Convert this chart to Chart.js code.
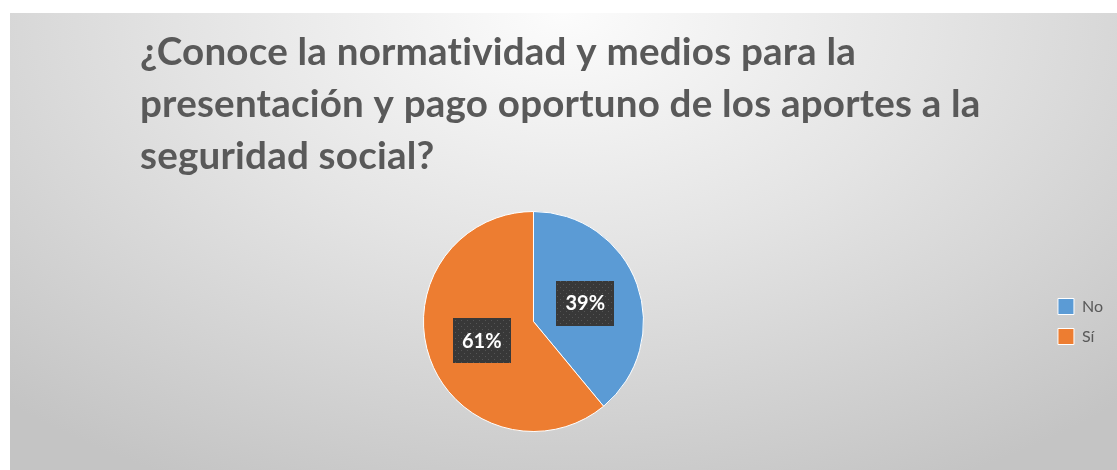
<!DOCTYPE html>
<html>
<head>
<meta charset="utf-8">
<script src="https://cdn.jsdelivr.net/npm/chart.js@4"></script>
<style>
    body { margin: 0; background: #fff; }
    #box {
        position: absolute; left: 10px; top: 13px; width: 1107px; height: 457px;
        background: radial-gradient(ellipse 75% 115% at 50% 0%, #fcfcfc 0%, #e4e4e4 45%, #c4c4c4 100%);
    }
</style>
</head>
<body>
<div id="box"><canvas id="chart-0" width="1107" height="457"></canvas></div>
<script>
var categories = ['No', 'Sí'];
var values = [39, 61];
var colors = ['#5b9bd5', '#ed7d31'];
var titleLines = [
    '¿Conoce la normatividad y medios para la',
    'presentación y pago oportuno de los aportes a la',
    'seguridad social?'
];

// dark dotted tile behind the percent labels
var tile = document.createElement('canvas');
tile.width = 6; tile.height = 6;
var tctx = tile.getContext('2d');
tctx.fillStyle = '#383838';
tctx.fillRect(0, 0, 6, 6);
tctx.fillStyle = '#555555';
tctx.fillRect(1, 1, 1, 1);
tctx.fillRect(4, 4, 1, 1);

function eachOf(arr, fn) { for (var i = 0; i < arr.length; i++) fn(i, arr[i]); }

var titlePlugin = {
    id: 'bigTitle',
    afterDraw: function (chart) {
        var ctx = chart.ctx;
        ctx.save();
        ctx.fillStyle = '#595959';
        ctx.textBaseline = 'alphabetic';
        ctx.letterSpacing = '0.2px'; // keeps "ti" from turning into a ligature
        // fit the widest line to the width it has in the picture
        var size = 34;
        ctx.font = 'bold ' + size + 'px Lato';
        var w = ctx.measureText(titleLines[1]).width;
        size = size * 842 / w;
        ctx.font = 'bold ' + size + 'px Lato';
        eachOf(titleLines, function (i, line) {
            ctx.fillText(line, 130, 52 + i * 52);
        });
        ctx.restore();
    }
};

var labelPlugin = {
    id: 'pctLabels',
    afterDatasetsDraw: function (chart) {
        var ctx = chart.ctx;
        var meta = chart.getDatasetMeta(0);
        var total = values.reduce(function (a, b) { return a + b; }, 0);
        ctx.save();
        ctx.font = 'bold 20px Lato';
        ctx.textAlign = 'center';
        ctx.textBaseline = 'middle';
        eachOf(meta.data, function (i, arc) {
            var p = arc.tooltipPosition();
            var txt = Math.round(values[i] / total * 100) + '%';
            ctx.fillStyle = ctx.createPattern(tile, 'repeat');
            ctx.fillRect(Math.round(p.x - 29), Math.round(p.y - 22), 58, 45);
            ctx.fillStyle = '#ffffff';
            ctx.fillText(txt, p.x, p.y + 1);
        });
        ctx.restore();
    }
};

new Chart('chart-0', {
    type: 'pie',
    data: {
        labels: categories,
        datasets: [{
            data: values,
            backgroundColor: colors,
            borderColor: '#ffffff',
            borderWidth: 1
        }]
    },
    options: {
        responsive: false,
        animation: false,
        layout: {
            padding: { top: 198, bottom: 38, left: 13, right: 4 }
        },
        plugins: {
            tooltip: { enabled: false },
            legend: {
                position: 'right',
                labels: {
                    boxWidth: 16,
                    boxHeight: 16,
                    padding: 14,
                    color: '#595959',
                    font: { family: 'Lato', size: 16 }
                }
            }
        }
    },
    plugins: [titlePlugin, labelPlugin]
});
</script>
</body>
</html>
